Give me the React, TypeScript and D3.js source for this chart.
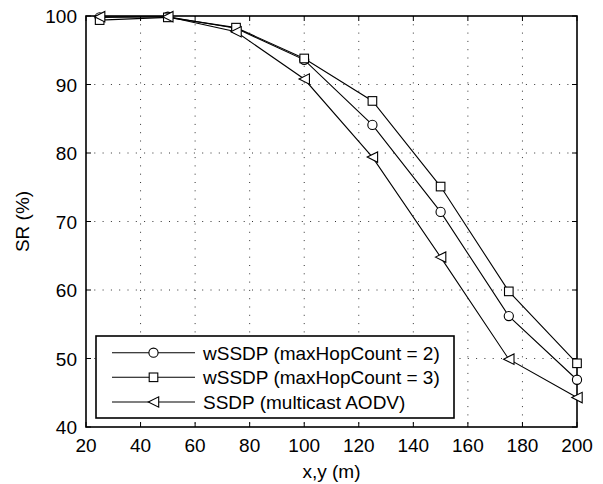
import React from "react";
import * as d3 from "d3";

const xValues = [25, 50, 75, 100, 125, 150, 175, 200];
const seriesNames = ["wSSDP (maxHopCount = 2)", "wSSDP (maxHopCount = 3)", "SSDP (multicast AODV)"];
const seriesHop2 = [99.8, 99.9, 98.2, 93.6, 84.1, 71.4, 56.2, 46.9];
const seriesHop3 = [99.4, 99.8, 98.3, 93.8, 87.6, 75.1, 59.8, 49.3];
const seriesAodv = [99.9, 99.9, 97.7, 90.8, 79.4, 64.8, 49.9, 44.3];
const markers = ["circle", "square", "triangle"];
const xTicks = [20, 40, 60, 80, 100, 120, 140, 160, 180, 200];
const yTicks = [40, 50, 60, 70, 80, 90, 100];

const W = 603, H = 484;
const L = 86, R = 577, T = 16, B = 427;
const FONT = "'Liberation Sans', Arial, Helvetica, sans-serif";
const FS = 19;

function Marker({ type, x, y }: { type: string; x: number; y: number }) {
  if (type === "circle") return <circle cx={x} cy={y} r={4.6} fill="white" stroke="black" strokeWidth={1.1} />;
  if (type === "square") return <rect x={x - 4.3} y={y - 4.3} width={8.6} height={8.6} fill="white" stroke="black" strokeWidth={1.1} />;
  const s = 5.2;
  return <path d={`M${x - s},${y} L${x + s},${y - s} L${x + s},${y + s} Z`} fill="white" stroke="black" strokeWidth={1.1} />;
}

export default function App() {
  const x = d3.scaleLinear().domain([20, 200]).range([L, R]);
  const y = d3.scaleLinear().domain([40, 100]).range([B, T]);
  const all = [seriesHop2, seriesHop3, seriesAodv];
  const line = d3.line<[number, number]>().x(d => x(d[0])).y(d => y(d[1]));

  const legX = 96, legY = 336, legW = 358, legH = 82;
  const rowY = [352.7, 377.3, 402];

  return (
    <svg width={W} height={H} style={{ position: "absolute", left: 0, top: 0, background: "white" }} fontFamily={FONT}>
      <rect x={0} y={0} width={W} height={H} fill="white" />
      {xTicks.slice(1, -1).map(t => (
        <line key={"gx" + t} x1={x(t)} x2={x(t)} y1={T} y2={B} stroke="black" strokeWidth={1} strokeDasharray="1,7.3" opacity={0.8} />
      ))}
      {yTicks.slice(1, -1).map(t => (
        <line key={"gy" + t} x1={L} x2={R} y1={y(t)} y2={y(t)} stroke="black" strokeWidth={1} strokeDasharray="1,7.3" opacity={0.8} />
      ))}
      {xTicks.map(t => (
        <g key={"tx" + t}>
          <line x1={x(t)} x2={x(t)} y1={B} y2={B - 5} stroke="black" />
          <line x1={x(t)} x2={x(t)} y1={T} y2={T + 5} stroke="black" />
          <text x={x(t)} y={452} textAnchor="middle" fontSize={FS}>{t}</text>
        </g>
      ))}
      {yTicks.map(t => (
        <g key={"ty" + t}>
          <line x1={L} x2={L + 5} y1={y(t)} y2={y(t)} stroke="black" />
          <line x1={R} x2={R - 5} y1={y(t)} y2={y(t)} stroke="black" />
          <text x={77} y={y(t) + 7} textAnchor="end" fontSize={FS}>{t}</text>
        </g>
      ))}
      <rect x={L} y={T} width={R - L} height={B - T} fill="none" stroke="black" strokeWidth={1.6} />
      {all.map((s, i) => (
        <path key={"s" + i} d={line(xValues.map((v, j) => [v, s[j]] as [number, number])) || ""} fill="none" stroke="black" strokeWidth={1.1} />
      ))}
      {all.map((s, i) => (
        <g key={"m" + i}>
          {xValues.map((v, j) => <Marker key={j} type={markers[i]} x={x(v)} y={y(s[j])} />)}
        </g>
      ))}
      <rect x={legX} y={legY} width={legW} height={legH} fill="white" stroke="black" strokeWidth={1.6} />
      {seriesNames.map((n, i) => (
        <g key={"l" + i}>
          <line x1={112} x2={195} y1={rowY[i]} y2={rowY[i]} stroke="black" strokeWidth={1.1} />
          <Marker type={markers[i]} x={153.5} y={rowY[i]} />
          <text x={203} y={rowY[i] + 7} fontSize={FS}>{n}</text>
        </g>
      ))}
      <text x={(L + R) / 2} y={478} textAnchor="middle" fontSize={FS}>x,y (m)</text>
      <text transform={`translate(29,${(T + B) / 2}) rotate(-90)`} textAnchor="middle" fontSize={FS}>SR (%)</text>
    </svg>
  );
}
